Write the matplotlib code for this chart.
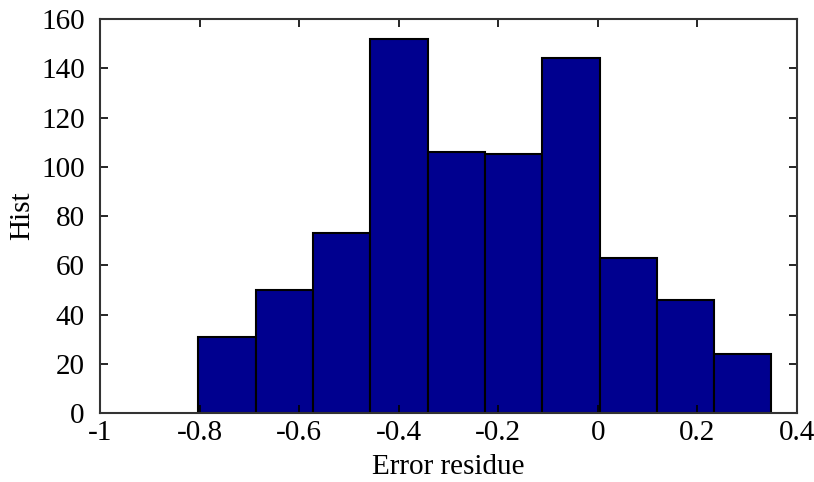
import numpy as np
import matplotlib
matplotlib.use("Agg")
import matplotlib.pyplot as plt

# histogram
bin_edges = [-0.804, -0.687, -0.573, -0.457, -0.342, -0.226, -0.113, 0.004, 0.119, 0.233, 0.348]
counts = [31, 50, 73, 152, 106, 105, 144, 63, 46, 24]
x_ticks = [-1, -0.8, -0.6, -0.4, -0.2, 0, 0.2, 0.4]
x_tick_labels = ["-1", "-0.8", "-0.6", "-0.4", "-0.2", "0", "0.2", "0.4"]
y_ticks = [0, 20, 40, 60, 80, 100, 120, 140, 160]

plt.rcParams['font.family'] = ['Liberation Serif', 'DejaVu Serif']

fig = plt.figure(figsize=(8.14, 4.82), dpi=100)
ax = fig.add_axes([0.1229, 0.143, 0.8563, 0.8176])

edges = np.array(bin_edges)
ax.bar(edges[:-1], counts, width=np.diff(edges), align='edge',
       color='#00008F', edgecolor='black', linewidth=1.5)

ax.set_xlim(-1, 0.4)
ax.set_ylim(0, 160)
ax.set_xticks(x_ticks)
ax.set_xticklabels(x_tick_labels)
ax.set_yticks(y_ticks)
ax.tick_params(direction='in', length=6, width=1.2, top=True, right=True,
               labelsize=21, colors='black')
ax.tick_params(axis='x', pad=5)
ax.tick_params(axis='y', pad=11)
for s in ax.spines.values():
    s.set_linewidth(1.5)
    s.set_color('#333333')

ax.set_xlabel("Error residue", fontsize=21, labelpad=6)
ax.set_ylabel("Hist", fontsize=21, labelpad=4)

fig.savefig("out.png", dpi=100)
